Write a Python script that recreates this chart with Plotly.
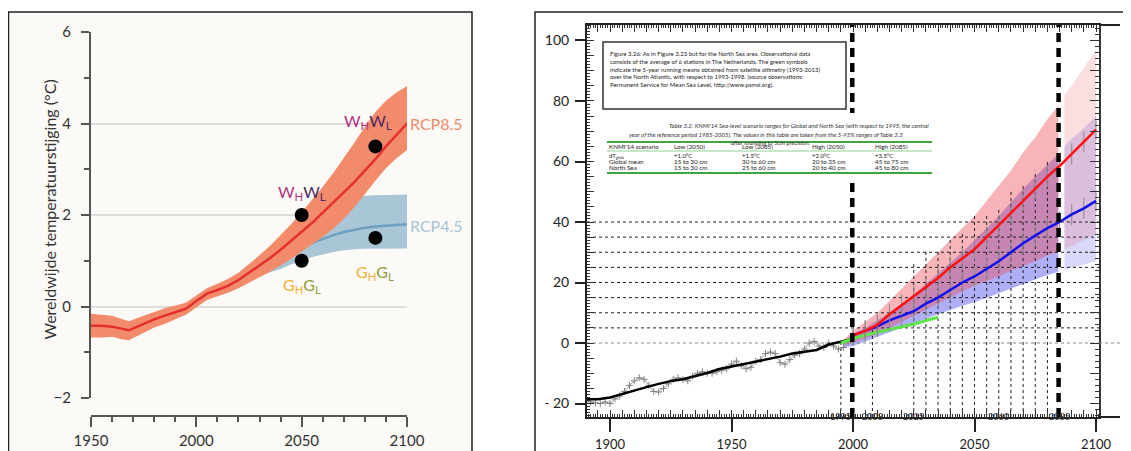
import plotly.graph_objects as go

W, H = 1131, 451
OFF = 8  # the page body adds an 8px margin around the figure
def px(x): return (x - OFF) / W
def py(y): return 1 - (y - OFF) / H

# ---------------- LEFT PANEL DATA (global temperature rise, deg C) ----------------
rcp85_years = [1950, 1955, 1960, 1965, 1968, 1975, 1980, 1985, 1990, 1995, 2000, 2005, 2010, 2015,
               2020, 2025, 2030, 2035, 2040, 2045, 2050, 2055, 2060, 2065, 2070, 2075, 2080, 2085,
               2090, 2095, 2100]
rcp85_mid = [-0.42, -0.42, -0.44, -0.5, -0.52, -0.38, -0.28, -0.2, -0.12, -0.05, 0.12, 0.28, 0.36, 0.45,
             0.58, 0.74, 0.9, 1.06, 1.24, 1.43, 1.62, 1.83, 2.05, 2.27, 2.5, 2.72, 2.97, 3.22,
             3.5, 3.75, 4.0]
rcp85_low = [-0.68, -0.68, -0.66, -0.72, -0.74, -0.58, -0.46, -0.38, -0.28, -0.18, -0.02, 0.14, 0.22, 0.3,
             0.4, 0.52, 0.64, 0.76, 0.9, 1.04, 1.2, 1.35, 1.52, 1.7, 1.92, 2.17, 2.45, 2.75,
             3.02, 3.24, 3.42]
rcp85_high = [-0.16, -0.18, -0.2, -0.28, -0.32, -0.2, -0.12, -0.04, 0.02, 0.08, 0.24, 0.4, 0.5, 0.6,
              0.74, 0.92, 1.12, 1.33, 1.56, 1.8, 2.06, 2.33, 2.62, 2.92, 3.24, 3.58, 3.93, 4.25,
              4.5, 4.68, 4.82]

rcp45_years = [2020, 2025, 2030, 2035, 2040, 2045, 2050, 2055, 2060, 2065, 2070, 2075, 2080, 2085, 2090, 2095, 2100]
rcp45_mid = [0.58, 0.72, 0.86, 0.97, 1.08, 1.18, 1.29, 1.39, 1.48, 1.56, 1.63, 1.68, 1.72, 1.75, 1.77, 1.79, 1.8]
rcp45_low = [0.5, 0.6, 0.68, 0.75, 0.82, 0.92, 1.0, 1.08, 1.14, 1.19, 1.23, 1.25, 1.26, 1.27, 1.27, 1.27, 1.27]
rcp45_high = [0.66, 0.86, 1.06, 1.28, 1.5, 1.7, 1.88, 2.04, 2.17, 2.27, 2.34, 2.39, 2.42, 2.43, 2.44, 2.45, 2.45]

dot_years = [2050, 2050, 2085, 2085]
dot_values = [2.0, 1.0, 3.5, 1.5]

left_xticks = [1950, 2000, 2050, 2100]
left_yticks = [-2, 0, 2, 4, 6]

# ---------------- RIGHT PANEL DATA (sea level, cm) ----------------
obs_years = [1890, 1892, 1894, 1896, 1898, 1900, 1902, 1904, 1906, 1908, 1910, 1912, 1914, 1916, 1918,
             1920, 1922, 1924, 1926, 1928, 1930, 1932, 1934, 1936, 1938, 1940, 1942, 1944, 1946, 1948,
             1950, 1952, 1954, 1956, 1958, 1960, 1962, 1964, 1966, 1968, 1970, 1972, 1974, 1976, 1978,
             1980, 1982, 1984, 1986, 1988, 1990, 1992, 1994, 1996, 1998]
obs_values = [-19, -19.5, -19.8, -20, -19.5, -20, -18.5, -17.5, -16, -14, -12.5, -11.5, -12, -14, -16,
              -16.2, -15, -13.5, -12, -11.5, -12, -12.5, -11, -10, -9.5, -10, -10, -9.5, -9, -8.5,
              -7, -6, -7.5, -8.5, -8, -6, -5.5, -3.5, -3, -3.5, -6.5, -7, -5.5, -4, -3.5,
              -2, 0, 0.5, -1, -1.5, 0, -1, -2, -1.5, 0.5]

smooth_years = [1890, 1895, 1900, 1905, 1910, 1915, 1920, 1925, 1930, 1935, 1940, 1945, 1950, 1955,
                1960, 1965, 1970, 1975, 1980, 1985, 1990, 1995, 1998]
smooth_values = [-18.6, -18.6, -18, -16.8, -15.7, -14.6, -13.5, -12.6, -12, -11, -9.9, -8.6, -7.8, -6.8,
                 -6, -5.4, -4.5, -3.5, -2.8, -2.3, -0.5, 0.3, 1.0]

proj_years = [2000, 2005, 2010, 2015, 2020, 2025, 2030, 2035, 2040, 2045, 2050, 2055, 2060, 2065,
              2070, 2075, 2080, 2085, 2090, 2095, 2100]
high_mid = [2.5, 4, 6, 9.5, 12.5, 15.5, 18.5, 21.5, 25, 28, 31, 35, 39, 43, 47, 51, 55, 58.5, 62.5, 66.5, 70.5]
low_mid = [2.5, 4, 5.5, 7.5, 9, 10.5, 13, 15, 17.5, 20, 22, 24.5, 27, 30, 33, 35.5, 38, 40, 42.5, 44.5, 47]

band_years = [1996, 2000, 2005, 2010, 2015, 2020, 2025, 2030, 2035, 2040, 2045, 2050, 2055, 2060,
              2065, 2070, 2075, 2080, 2084.5]
high_upper = [1, 4, 7, 10, 14, 18, 22, 26, 30, 34, 38, 42, 47, 52, 57, 63, 68, 74, 78.5]
high_lower = [-1, 0, 1.5, 3, 5, 7, 9, 11, 13, 15, 17, 19, 20.5, 22, 24, 25.5, 27, 29, 30]
low_upper = [0.5, 3, 5, 7.5, 10, 13, 16, 19.5, 23, 26.5, 30, 34, 38, 42, 46.5, 51, 55, 59, 62.5]
low_lower = [-1.5, -1, 0.5, 2, 3.5, 5, 6.5, 8, 9.5, 11, 12.3, 13.5, 15, 16.5, 18, 19.5, 21, 22.5, 23.5]

band_years_late = [2087, 2090, 2095, 2100]
high_upper_late = [82, 85, 91, 97]
high_lower_late = [31, 32, 34, 36]
low_upper_late = [65, 67.5, 71, 75]
low_lower_late = [24.2, 25, 26, 27]

sat_years = [1995, 2000, 2005, 2010, 2015, 2020, 2025, 2030, 2035]
sat_values = [0, 1.5, 2.6, 3.6, 4.5, 5.4, 6.3, 7.4, 8.5]

vline_years = [1995, 2008, 2025, 2030, 2035, 2040, 2045, 2050, 2055, 2060, 2065, 2070, 2075, 2080]
vline_tops = [0, 5, 27, 31, 31, 34, 36, 42, 42, 45, 51, 52, 57, 60]
hline_levels = [5, 10, 15, 20, 25, 30, 35, 40]
scenario_years = [1995, 2008, 2025, 2060, 2085]
dashed_years = [1999.7, 2084.6]

right_xticks = [1900, 1950, 2000, 2050, 2100]
right_yticks = [-20, 0, 20, 40, 60, 80, 100]
right_yticktext = ["- 20", "0", "20", "40", "60", "80", "100"]

XR = [1890.53, 2101.23]
YR = [-24.46, 105.12]

caption_lines = [
    "Figure 3.26: As in Figure 3.23 but for the North Sea area. Observational data",
    "consists of the average of 6 stations in The Netherlands. The green symbols",
    "indicate the 5-year running means obtained from satellite altimetry (1993-2013)",
    "over the North Atlantic, with respect to 1993-1998. (source observations:",
    "Permanent Service for Mean Sea Level, http://www.psmsl.org).",
]
table_title = [
    "Table 3.2: KNMI'14 Sea-level scenario ranges for Global and North Sea (with respect to 1995, the central",
    "year of the reference period 1985-2005). The values in this table are taken from the 5-95% ranges of Table 3.3",
    "after rounding to 5cm precision.",
]
table_rows = [
    ["KNMI'14 scenario", "Low (2050)", "Low (2085)", "High (2050)", "High (2085)"],
    ["dT<sub>glob</sub>", "+1.0°C", "+1.5°C", "+2.0°C", "+3.5°C"],
    ["Global mean", "15 to 30 cm", "30 to 60 cm", "20 to 35 cm", "45 to 75 cm"],
    ["North Sea", "15 to 30 cm", "25 to 60 cm", "20 to 40 cm", "45 to 80 cm"],
]

FONT = "Lato"
fig = go.Figure()

def band(xs, lo, hi, color, xa, ya):
    fig.add_trace(go.Scatter(x=list(xs) + list(xs)[::-1], y=list(hi) + list(lo)[::-1], fill="toself",
                             fillcolor=color, line=dict(width=0), mode="lines", hoverinfo="skip",
                             showlegend=False, xaxis=xa, yaxis=ya))

# ---- left panel traces
band(rcp45_years, rcp45_low, rcp45_high, "#a9c6d7", "x", "y")
fig.add_trace(go.Scatter(x=rcp45_years, y=rcp45_mid, mode="lines", line=dict(color="#6c9fc0", width=2.5),
                         hoverinfo="skip", showlegend=False, xaxis="x", yaxis="y"))
band(rcp85_years, rcp85_low, rcp85_high, "#f28b6b", "x", "y")
fig.add_trace(go.Scatter(x=rcp85_years, y=rcp85_mid, mode="lines", line=dict(color="#e4302a", width=2.5),
                         hoverinfo="skip", showlegend=False, xaxis="x", yaxis="y"))
fig.add_trace(go.Scatter(x=dot_years, y=dot_values, mode="markers", marker=dict(color="black", size=14),
                         hoverinfo="skip", showlegend=False, xaxis="x", yaxis="y"))

# ---- right panel traces
band(band_years, low_lower, low_upper, "rgba(110,110,240,0.55)", "x2", "y2")
band(band_years, high_lower, high_upper, "rgba(235,70,80,0.40)", "x2", "y2")
band(band_years_late, low_lower_late, low_upper_late, "rgba(110,110,240,0.27)", "x2", "y2")
band(band_years_late, high_lower_late, high_upper_late, "rgba(235,70,80,0.18)", "x2", "y2")

vx, vy = [], []
for yr, top in zip(vline_years, vline_tops):
    vx += [yr, yr, None]
    vy += [YR[0], top, None]
fig.add_trace(go.Scatter(x=vx, y=vy, mode="lines", line=dict(color="#222", width=1, dash="dot"),
                         hoverinfo="skip", showlegend=False, xaxis="x2", yaxis="y2"))
hx, hy = [], []
for lv in hline_levels:
    hx += [XR[0], XR[1], None]
    hy += [lv, lv, None]
fig.add_trace(go.Scatter(x=hx, y=hy, mode="lines", line=dict(color="#222", width=1, dash="dot"),
                         hoverinfo="skip", showlegend=False, xaxis="x2", yaxis="y2"))
fig.add_trace(go.Scatter(x=XR, y=[0, 0], mode="lines", line=dict(color="#888", width=1.2, dash="dot"),
                         hoverinfo="skip", showlegend=False, xaxis="x2", yaxis="y2"))

fig.add_trace(go.Scatter(x=obs_years, y=obs_values, mode="lines+markers",
                         line=dict(color="#a0a0a0", width=1),
                         marker=dict(symbol="cross-thin", size=5, line=dict(width=1, color="#808080")),
                         hoverinfo="skip", showlegend=False, xaxis="x2", yaxis="y2"))
fig.add_trace(go.Scatter(x=smooth_years, y=smooth_values, mode="lines", line=dict(color="black", width=2.5),
                         hoverinfo="skip", showlegend=False, xaxis="x2", yaxis="y2"))
fig.add_trace(go.Scatter(x=sat_years, y=sat_values, mode="lines", line=dict(color="#5fe34a", width=3),
                         hoverinfo="skip", showlegend=False, xaxis="x2", yaxis="y2"))
fig.add_trace(go.Scatter(x=proj_years, y=low_mid, mode="lines", line=dict(color="#1010ee", width=2.5),
                         error_y=dict(type="constant", value=3.5, color="#8a8a8a", thickness=1, width=0),
                         hoverinfo="skip", showlegend=False, xaxis="x2", yaxis="y2"))
fig.add_trace(go.Scatter(x=proj_years, y=high_mid, mode="lines", line=dict(color="#ff1010", width=2.5),
                         error_y=dict(type="constant", value=3.5, color="#8a8a8a", thickness=1, width=0),
                         hoverinfo="skip", showlegend=False, xaxis="x2", yaxis="y2"))

# dummy traces so that overlay axes are drawn
for xa, ya in [("x3", "y2"), ("x4", "y2"), ("x2", "y3"), ("x2", "y4")]:
    fig.add_trace(go.Scatter(x=[2000], y=[0], mode="markers", marker=dict(opacity=0), hoverinfo="skip",
                             showlegend=False, xaxis=xa, yaxis=ya))

tf_left = dict(family=FONT, size=15, color="#333")
tf_right = dict(family=FONT, size=13, color="#222")

layout = dict(
    width=W, height=H, margin=dict(l=0, r=0, t=0, b=0, autoexpand=False),
    paper_bgcolor="white", plot_bgcolor="rgba(0,0,0,0)", hovermode=False, showlegend=False,
    xaxis=dict(domain=[px(91), px(407)], range=[1950, 2100], anchor="free", position=py(416),
               automargin=False,
               showline=True, linecolor="#555", linewidth=2, ticks="outside", tickvals=left_xticks,
               ticklen=10, tickwidth=2, tickcolor="#555", tickfont=tf_left, ticklabelstandoff=1,
               minor=dict(ticks="outside", tickmode="linear", tick0=1950, dtick=10, ticklen=5,
                          tickwidth=1.5, tickcolor="#555", showgrid=False),
               showgrid=False, zeroline=False, fixedrange=True),
    yaxis=dict(domain=[py(398), py(32)], range=[-2, 6], anchor="x", showline=True, linecolor="#555",
               automargin=False,
               linewidth=2, ticks="outside", tickvals=left_yticks, ticklen=8, tickwidth=2, tickcolor="#555",
               tickfont=tf_left, ticklabelstandoff=7,
               minor=dict(ticks="outside", tickmode="linear", tick0=-2, dtick=1, ticklen=5, tickwidth=1.5,
                          tickcolor="#555", showgrid=False),
               showgrid=True, gridcolor="#dddddd", gridwidth=1.5, zeroline=False, fixedrange=True),
    xaxis2=dict(domain=[px(587), px(1099)], range=XR, anchor="y2", showline=True, linecolor="#222",
                automargin=False,
                linewidth=2, ticks="outside", tickvals=right_xticks, ticklen=13, tickwidth=1.5,
                tickcolor="#222", tickfont=tf_right, ticklabelstandoff=1,
                minor=dict(ticks="inside", tickmode="linear", tick0=1890, dtick=1, ticklen=3, tickwidth=1,
                           tickcolor="#333", showgrid=False),
                showgrid=False, zeroline=False, fixedrange=True),
    yaxis2=dict(domain=[py(417), py(25)], range=YR, anchor="x2", showline=True, linecolor="#222",
                automargin=False,
                linewidth=2, ticks="outside", tickvals=right_yticks, ticktext=right_yticktext, ticklen=10,
                tickwidth=1.5, tickcolor="#222", tickfont=dict(family=FONT, size=14, color="#222"),
                ticklabelstandoff=3,
                minor=dict(ticks="inside", tickmode="linear", tick0=0, dtick=1, ticklen=3, tickwidth=1,
                           tickcolor="#333", showgrid=False),
                showgrid=False, zeroline=False, fixedrange=True),
    xaxis3=dict(overlaying="x2", side="top", anchor="y2", range=XR, showline=True, linecolor="#222",
                automargin=False,
                linewidth=2, ticks="inside", tickmode="linear", tick0=1900, dtick=5, ticklen=7, tickwidth=1,
                tickcolor="#333", showticklabels=False,
                minor=dict(ticks="inside", tickmode="linear", tick0=1890, dtick=1, ticklen=3, tickwidth=1,
                           tickcolor="#333", showgrid=False),
                showgrid=False, zeroline=False, fixedrange=True),
    xaxis4=dict(overlaying="x2", side="bottom", anchor="y2", range=XR, showline=False, ticks="inside",
                automargin=False,
                tickmode="linear", tick0=1900, dtick=5, ticklen=7, tickwidth=1, tickcolor="#333",
                showticklabels=False, showgrid=False, zeroline=False, fixedrange=True),
    yaxis3=dict(overlaying="y2", side="right", anchor="x2", range=YR, showline=True, linecolor="#333",
                automargin=False,
                linewidth=1.5, ticks="inside", tickmode="linear", tick0=0, dtick=10, ticklen=9, tickwidth=1,
                tickcolor="#333", showticklabels=False,
                minor=dict(ticks="inside", tickmode="linear", tick0=0, dtick=2, ticklen=4, tickwidth=1,
                           tickcolor="#333", showgrid=False),
                showgrid=False, zeroline=False, fixedrange=True),
    yaxis4=dict(overlaying="y2", side="left", anchor="x2", range=YR, showline=False, ticks="inside",
                automargin=False,
                tickmode="linear", tick0=0, dtick=5, ticklen=7, tickwidth=1, tickcolor="#333",
                showticklabels=False, showgrid=False, zeroline=False, fixedrange=True),
)
fig.update_layout(**layout)

shapes = []
# panel frames
shapes.append(dict(type="rect", xref="paper", yref="paper", x0=px(8.5), x1=px(472), y0=py(470), y1=py(12),
                   line=dict(color="#222", width=1.5), fillcolor="#fcfaf7", layer="below"))
shapes.append(dict(type="rect", xref="paper", yref="paper", x0=px(535), x1=px(1145), y0=py(470), y1=py(12),
                   line=dict(color="#222", width=1.5), fillcolor="white", layer="below"))
# extended top/bottom axis lines and zero line on the right panel
for yy in [25, 417]:
    shapes.append(dict(type="line", xref="paper", yref="paper", x0=px(1099), x1=px(1120), y0=py(yy), y1=py(yy),
                       line=dict(color="#222", width=2)))
shapes.append(dict(type="line", xref="paper", yref="y2", x0=px(1099), x1=px(1120), y0=0, y1=0,
                   line=dict(color="#888", width=1.2, dash="dot")))
# thick dashed vertical lines
for xv in dashed_years:
    shapes.append(dict(type="line", xref="x2", yref="paper", x0=xv, x1=xv, y0=py(417), y1=py(25),
                       line=dict(color="black", width=4.5, dash="9px,6px")))
# caption box
shapes.append(dict(type="rect", xref="paper", yref="paper", x0=px(603), x1=px(846), y0=py(109), y1=py(42),
                   line=dict(color="#333", width=1.5), fillcolor="white"))
# white background of the pasted table (hides the dashed line behind it)
shapes.append(dict(type="rect", xref="paper", yref="paper", x0=px(600), x1=px(936), y0=py(177), y1=py(113),
                   line=dict(width=0), fillcolor="white"))
# table green rules
for yy, wdt, col in [(142, 2, "#3fa63f"), (151, 1, "#8fd08f"), (173, 2, "#3fa63f")]:
    shapes.append(dict(type="line", xref="paper", yref="paper", x0=px(607), x1=px(932), y0=py(yy), y1=py(yy),
                       line=dict(color=col, width=wdt)))
fig.update_layout(shapes=shapes)

ann = []
# left panel text
ann.append(dict(text="Wereldwijde temperatuurstijging (°C)", textangle=-90, xref="paper", yref="paper",
                x=px(37), y=py(210), showarrow=False, font=dict(family=FONT, size=16, color="#333")))
ann.append(dict(text="RCP8.5", xref="x", yref="y", x=2100, y=4.0, xanchor="left", xshift=1, showarrow=False,
                font=dict(family=FONT, size=16, color="#f08a6a")))
ann.append(dict(text="RCP4.5", xref="x", yref="y", x=2100, y=1.78, xanchor="left", xshift=1, showarrow=False,
                font=dict(family=FONT, size=16, color="#a6c4d6")))
wtxt = "<span style='color:#b3317c'>W<sub>H</sub></span><span style='color:#4b2862'>W<sub>L</sub></span>"
gtxt = "<span style='color:#f0b032'>G<sub>H</sub></span><span style='color:#8c9c3c'>G<sub>L</sub></span>"
for txt, xv, yv in [(wtxt, 2050, 2.5), (wtxt, 2081.5, 4.04), (gtxt, 2050, 0.46), (gtxt, 2084.6, 0.75)]:
    ann.append(dict(text=txt, xref="x", yref="y", x=xv, y=yv, showarrow=False,
                    font=dict(family=FONT, size=16)))
# right panel: scenario year labels
for yr in scenario_years:
    ann.append(dict(text=str(yr), xref="x2", yref="paper", x=yr, y=py(424), showarrow=False,
                    font=dict(family=FONT, size=9, color="#333")))
# caption
for i, line in enumerate(caption_lines):
    ann.append(dict(text=line, xref="paper", yref="paper", x=px(608), y=py(48 + 7.8 * i), xanchor="left",
                    showarrow=False, font=dict(family=FONT, size=6, color="#222")))
# table title
ann.append(dict(text="<i>" + table_title[0] + "</i>", xref="paper", yref="paper", x=px(931), y=py(120),
                xanchor="right", showarrow=False, font=dict(family=FONT, size=6, color="#333")))
ann.append(dict(text="<i>" + table_title[1] + "</i>", xref="paper", yref="paper", x=px(766), y=py(129),
                xanchor="center", showarrow=False, font=dict(family=FONT, size=6, color="#333")))
ann.append(dict(text="<i>" + table_title[2] + "</i>", xref="paper", yref="paper", x=px(770), y=py(137),
                xanchor="center", showarrow=False, font=dict(family=FONT, size=6, color="#333")))
col_x = [607, 672, 740, 810, 873]
row_y = [146.5, 155.5, 161.7, 167.3]
for r, row in enumerate(table_rows):
    for c, cell in enumerate(row):
        ann.append(dict(text=cell, xref="paper", yref="paper", x=px(col_x[c]), y=py(row_y[r]),
                        xanchor="left", yanchor="middle", showarrow=False,
                        font=dict(family=FONT, size=6 if r == 1 else 6.3, color="#222")))
fig.update_layout(annotations=ann)

fig.write_html("out.html")
